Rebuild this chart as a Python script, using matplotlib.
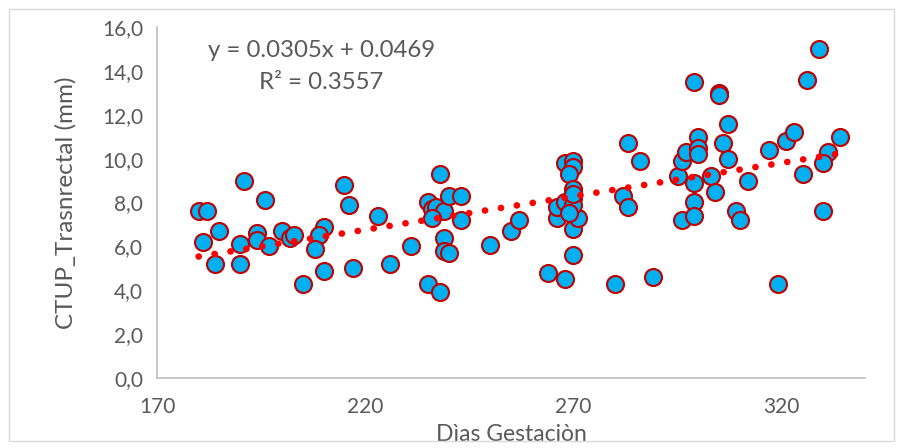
import matplotlib
matplotlib.use("Agg")
import matplotlib.pyplot as plt
from matplotlib.patches import FancyBboxPatch
import numpy as np

dias = [180, 182, 191, 196, 185, 181, 184, 190, 190, 194, 194, 197, 200, 202, 203,
        210, 209, 208, 205, 210, 215, 216, 217, 223, 226, 231, 235, 238, 238, 235,
        236, 237, 239, 240, 243, 243, 239, 239, 240, 236, 250, 255, 257, 264, 268,
        280, 289, 270, 270, 266, 266, 271, 268, 270, 270, 269, 270, 270, 268, 270,
        269, 270, 282, 283, 283, 286, 295, 296, 297, 296, 299, 299, 299, 299, 305,
        305, 307, 300, 306, 307, 300, 300, 303, 304, 309, 310, 312, 317, 321, 323,
        334, 331, 330, 325, 330, 319, 329, 326]
ctup = [7.6, 7.6, 9.0, 8.1, 6.7, 6.2, 5.2, 6.1, 5.2, 6.6, 6.3, 6.0, 6.7, 6.4, 6.5,
        6.9, 6.5, 5.9, 4.3, 4.9, 8.8, 7.9, 5.0, 7.4, 5.2, 6.0, 4.3, 3.9, 9.3, 8.0,
        7.7, 7.8, 7.6, 8.3, 8.3, 7.2, 6.4, 5.8, 5.7, 7.3, 6.05, 6.7, 7.2, 4.8, 4.5,
        4.3, 4.6, 5.6, 6.8, 7.3, 7.8, 7.3, 9.8, 9.9, 9.6, 9.3, 8.6, 8.2, 8.0, 7.9,
        7.5, 8.4, 8.3, 7.8, 10.7, 9.9, 9.2, 9.9, 10.3, 7.2, 8.9, 8.0, 7.4, 13.5, 13.0,
        12.9, 11.6, 11.0, 10.7, 10.0, 10.5, 10.2, 9.2, 8.5, 7.6, 7.2, 9.0, 10.4, 10.8, 11.2,
        11.0, 10.3, 9.8, 9.3, 7.6, 4.3, 15.0, 13.6]

slope = 0.0305
intercept = 0.0469
eq_text = "y = 0.0305x + 0.0469"
r2_text = "R² = 0.3557"
x_ticks = [170, 220, 270, 320]
y_ticks = [0, 2, 4, 6, 8, 10, 12, 14, 16]

plt.rcParams['font.family'] = ['Lato', 'DejaVu Sans']
plt.rcParams['lines.scale_dashes'] = False
grey = '#595959'

fig = plt.figure(figsize=(9.02, 4.48), dpi=100)
border = FancyBboxPatch((9/902, 7/448), 885/902, 432/448, boxstyle="square,pad=0",
                        transform=fig.transFigure, fill=False, edgecolor='#D9D9D9', lw=1.0)
fig.patches.append(border)

ax = fig.add_axes([157/902, 70/448, 708/902, 351/448])
ax.set_xlim(170, 340)
ax.set_ylim(0, 16)

ax.scatter(dias, ctup, s=150, facecolor='#00B0F0', edgecolor='#C00000', linewidth=1.5, zorder=3)

xs = np.array([min(dias), max(dias)])
ax.plot(xs, slope * xs + intercept, color='#FF0000', lw=4.8,
        linestyle=(0, (0.1, 11.5)), dash_capstyle='round', zorder=4)

for s in ['top', 'right']:
    ax.spines[s].set_visible(False)
for s in ['left', 'bottom']:
    ax.spines[s].set_color('#BFBFBF')
    ax.spines[s].set_linewidth(1.2)

ax.set_xticks(x_ticks)
ax.set_yticks(y_ticks)
ax.set_yticklabels([f"{v:.1f}".replace('.', ',') for v in y_ticks])
ax.tick_params(length=0, colors=grey, labelsize=15)
ax.tick_params(axis='x', pad=14)
ax.tick_params(axis='y', pad=10)

ax.set_xlabel("Dìas Gestaciòn", fontsize=16.5, color=grey, labelpad=5)
ax.set_ylabel("CTUP_Trasnrectal (mm)", fontsize=17.5, color=grey, labelpad=18)

ax.text(0.232, 0.934, eq_text, transform=ax.transAxes, ha='center', va='center',
        fontsize=17.3, color=grey)
ax.text(0.232, 0.843, r2_text, transform=ax.transAxes, ha='center', va='center',
        fontsize=17.3, color=grey)

fig.savefig("out.png", dpi=100)
